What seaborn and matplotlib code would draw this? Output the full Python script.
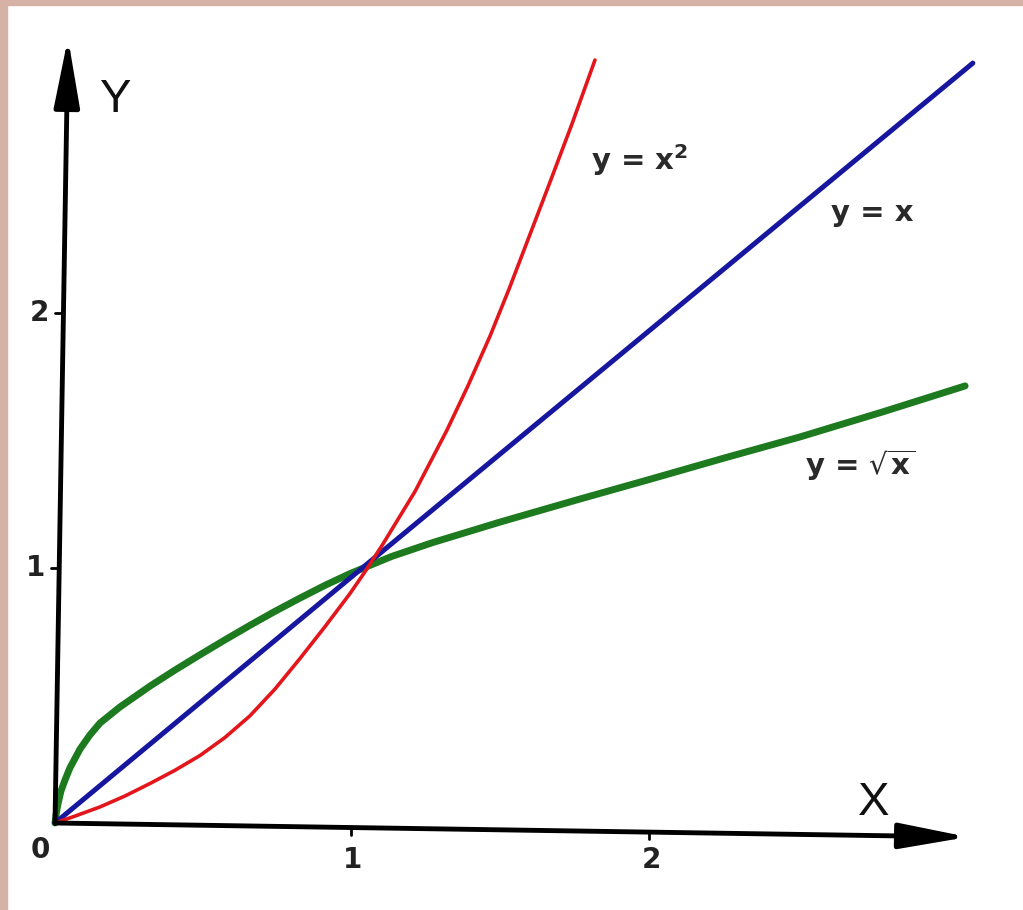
import numpy as np
import pandas as pd
import seaborn as sns
import matplotlib
matplotlib.use("Agg")
import matplotlib.pyplot as plt
from matplotlib.patches import Rectangle

# curve points (data units)
red_x = [0.0, 0.067, 0.151, 0.235, 0.319, 0.403, 0.487, 0.570, 0.654, 0.738, 0.822,
         0.906, 0.990, 1.040, 1.101, 1.208, 1.315, 1.386, 1.460, 1.524, 1.584, 1.660,
         1.735, 1.812]
red_y = [0.0, 0.027, 0.063, 0.106, 0.155, 0.207, 0.265, 0.335, 0.420, 0.525, 0.645,
         0.770, 0.900, 0.985, 1.095, 1.300, 1.540, 1.715, 1.910, 2.095, 2.278, 2.510,
         2.742, 2.992]

blue_x = [0.0, 1.0, 3.08]
blue_y = [0.0, 0.97, 2.98]

green_x = [0.0, 0.004, 0.010, 0.020, 0.034, 0.050, 0.084, 0.117, 0.151, 0.218, 0.319,
           0.403, 0.487, 0.570, 0.654, 0.738, 0.822, 0.906, 0.990, 1.129, 1.268,
           1.493, 1.745, 1.997, 2.248, 2.500, 2.777, 3.054]
green_y = [0.0, 0.035, 0.075, 0.125, 0.170, 0.216, 0.290, 0.345, 0.392, 0.455, 0.537,
           0.600, 0.660, 0.718, 0.775, 0.830, 0.882, 0.932, 0.978, 1.045, 1.100,
           1.180, 1.265, 1.348, 1.432, 1.514, 1.612, 1.714]

x_ticks = [1, 2]
y_ticks = [1, 2]

# pixel mapping of the scanned picture
X0, Y0, SX, SY = 55, 823, 298, 255
W, H = 1023, 910


def pd_(px, py):
    return (px - X0) / SX, (Y0 - py) / SY


sns.set_style("white")

fig = plt.figure(figsize=(W / 100, H / 100), dpi=100)
ax = fig.add_axes([0, 0, 1, 1])
ax.set_xlim(-X0 / SX, (W - X0) / SX)
ax.set_ylim((Y0 - H) / SY, Y0 / SY)
ax.axis("off")

# pink scan border
pink = "#D6B2A6"
fig.patches.append(Rectangle((0, 0), 7 / W, 1, transform=fig.transFigure, color=pink, zorder=0))
fig.patches.append(Rectangle((0, 1 - 5 / H), 1, 5 / H, transform=fig.transFigure, color=pink, zorder=0))

curves = pd.concat([
    pd.DataFrame({"x": red_x, "y": red_y, "f": "sq"}),
    pd.DataFrame({"x": blue_x, "y": blue_y, "f": "lin"}),
    pd.DataFrame({"x": green_x, "y": green_y, "f": "sqrt"}),
])
colors = {"sq": "#E3161B", "lin": "#16169F", "sqrt": "#1D7A1F"}
widths = {"sq": 2.6, "lin": 3.6, "sqrt": 5.0}
for name in ["sqrt", "lin", "sq"]:
    sub = curves[curves["f"] == name]
    sns.lineplot(data=sub, x="x", y="y", sort=False, ax=ax, color=colors[name],
                 lw=widths[name], solid_capstyle="round", solid_joinstyle="round", zorder=3)

# axes with arrows (slightly tilted like the scan)
arrow = dict(arrowstyle="-|>,head_length=1.5,head_width=0.28", lw=3.5, color="black",
             mutation_scale=28, shrinkA=0, shrinkB=0)
ax.annotate("", xy=pd_(968, 837), xytext=pd_(55, 823), arrowprops=arrow, zorder=4)
ax.annotate("", xy=pd_(68, 38), xytext=pd_(55, 823), arrowprops=arrow, zorder=4)

# ticks
tick_font = dict(ha="center", va="center", fontsize=20, fontweight="bold",
                 family="Liberation Sans Narrow", color="#222222")
for t in x_ticks:
    px = X0 + t * SX
    py = 823 + 14 * (px - 55) / 913
    ax.plot(*zip(pd_(px - 2, py), pd_(px - 2, py + 7)), color="black", lw=2, zorder=4)
    ax.text(*pd_(px, 860), str(t), **tick_font)
for t in y_ticks:
    py = Y0 - t * SY
    px = 55 + 13 * (823 - py) / 785
    ax.plot(*zip(pd_(px - 8, py), pd_(px, py)), color="black", lw=2, zorder=4)
    ax.text(*pd_(px - 24, py), str(t), **tick_font)
ax.text(*pd_(40, 850), "0", **tick_font)

# axis names
ax.text(*pd_(116, 100), "Y", ha="center", va="center", fontsize=34,
        family="Liberation Sans", color="#111111")
ax.text(*pd_(874, 803), "X", ha="center", va="center", fontsize=34,
        family="Liberation Sans", color="#111111")

# curve labels
lab = dict(ha="center", va="center", fontsize=21, fontweight="bold", color="#2a2a2a",
           family="DejaVu Sans")
ax.text(*pd_(640, 160), r"y = x$^\mathbf{2}$", **lab)
ax.text(*pd_(872, 213), "y = x", **lab)
ax.text(*pd_(860, 465), r"y = $\sqrt{\mathbf{x}}$", **lab)

fig.savefig("out.png", dpi=100, facecolor="white")
